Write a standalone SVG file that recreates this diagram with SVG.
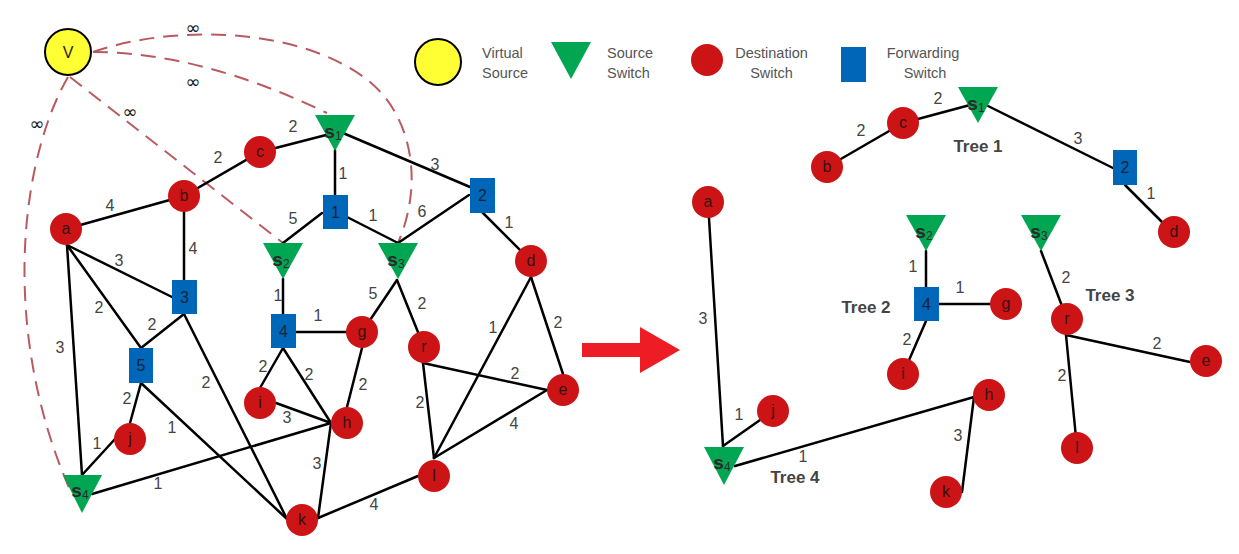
<svg xmlns="http://www.w3.org/2000/svg" width="1239" height="554" viewBox="0 0 1239 554">
<style>
.e{stroke:#000;stroke-width:2.5;fill:none;stroke-linecap:round}
.d{stroke:#B85A60;stroke-width:2;fill:none;stroke-dasharray:15 9}
.red{fill:#CC1417}
.blue{fill:#0067B8}
.grn{fill:#00A651}
.nl{font-family:"Liberation Sans",Arial,sans-serif;font-size:16px;fill:#3a1010;text-anchor:middle}
.bl{font-family:"Liberation Sans",Arial,sans-serif;font-size:16px;fill:#14243a;text-anchor:middle}
.sl{font-family:"Liberation Sans",Arial,sans-serif;fill:#2a2a2a;text-anchor:middle}
.sl .s{font-size:19px;font-weight:bold}
.sl .n{font-size:12px}
.w{font-family:"Liberation Sans",Arial,sans-serif;font-size:16px;fill:#444;text-anchor:middle}
.inf{font-family:"DejaVu Sans",sans-serif;font-size:18px;fill:#111;text-anchor:middle}
.lg{font-family:"Liberation Sans",Arial,sans-serif;font-size:14.5px;fill:#555}
.tt{font-family:"Liberation Sans",Arial,sans-serif;font-size:17px;font-weight:bold;fill:#444;text-anchor:middle}
</style>

<!-- Legend -->
<g id="legend">
  <circle cx="438" cy="62" r="23" fill="#FFFF33" stroke="#000" stroke-width="2"/>
  <text class="lg" x="482" y="58">Virtual</text>
  <text class="lg" x="482" y="78">Source</text>
  <polygon class="grn" points="551,42 591,42 571,79"/>
  <text class="lg" x="607" y="58">Source</text>
  <text class="lg" x="607" y="78">Switch</text>
  <circle class="red" cx="707" cy="60" r="16"/>
  <text class="lg" x="771.5" y="58" text-anchor="middle">Destination</text>
  <text class="lg" x="771.5" y="78" text-anchor="middle">Switch</text>
  <rect class="blue" x="841" y="47" width="25" height="35"/>
  <text class="lg" x="923" y="58" text-anchor="middle">Forwarding</text>
  <text class="lg" x="925" y="78" text-anchor="middle">Switch</text>
</g>

<!-- Connectors -->
<g id="connectors">
  <!-- dashed virtual links -->
  <path class="d" d="M93,52 Q200,52 327,113"/>
  <path class="d" d="M93,52 C170,25 300,25 370,82 C410,115 425,180 398,243"/>
  <path class="d" d="M70,77 L283,243"/>
  <path class="d" d="M68,77 C20,160 0,330 70,490"/>
  <!-- left graph -->
  <line class="e" x1="260" y1="152" x2="330" y2="134"/>
  <line class="e" x1="184" y1="196" x2="260" y2="152"/>
  <line class="e" x1="335" y1="150" x2="335" y2="195"/>
  <line class="e" x1="343" y1="133" x2="470" y2="187"/>
  <line class="e" x1="322" y1="213" x2="283" y2="243"/>
  <line class="e" x1="347" y1="217" x2="398" y2="243"/>
  <line class="e" x1="469" y1="195" x2="398" y2="243"/>
  <line class="e" x1="482" y1="212" x2="531" y2="261"/>
  <line class="e" x1="397" y1="280" x2="362" y2="332"/>
  <line class="e" x1="397" y1="280" x2="424" y2="347"/>
  <line class="e" x1="283" y1="279" x2="283" y2="314"/>
  <line class="e" x1="296" y1="332" x2="362" y2="332"/>
  <line class="e" x1="66" y1="229" x2="184" y2="196"/>
  <line class="e" x1="184" y1="196" x2="184" y2="280"/>
  <line class="e" x1="67" y1="245" x2="172" y2="297"/>
  <line class="e" x1="67" y1="245" x2="141" y2="348"/>
  <line class="e" x1="67" y1="245" x2="82" y2="475"/>
  <line class="e" x1="184" y1="314" x2="141" y2="348"/>
  <line class="e" x1="184" y1="314" x2="287" y2="519"/>
  <line class="e" x1="141" y1="383" x2="287" y2="519"/>
  <line class="e" x1="141" y1="383" x2="130" y2="423"/>
  <line class="e" x1="115" y1="439" x2="82" y2="475"/>
  <line class="e" x1="92" y1="494" x2="331" y2="423"/>
  <line class="e" x1="283" y1="348" x2="260" y2="388"/>
  <line class="e" x1="283" y1="348" x2="331" y2="423"/>
  <line class="e" x1="276" y1="403" x2="331" y2="423"/>
  <line class="e" x1="362" y1="348" x2="347" y2="407"/>
  <line class="e" x1="331" y1="423" x2="318" y2="518"/>
  <line class="e" x1="318" y1="518" x2="418" y2="476"/>
  <line class="e" x1="423" y1="363" x2="434" y2="458"/>
  <line class="e" x1="434" y1="458" x2="531" y2="277"/>
  <line class="e" x1="434" y1="458" x2="547" y2="390"/>
  <line class="e" x1="423" y1="363" x2="547" y2="390"/>
  <line class="e" x1="531" y1="277" x2="563" y2="374"/>
  <!-- right trees -->
  <line class="e" x1="827" y1="167" x2="903" y2="123"/>
  <line class="e" x1="903" y1="123" x2="970" y2="105"/>
  <line class="e" x1="988" y1="106" x2="1113" y2="168"/>
  <line class="e" x1="1125" y1="185" x2="1173" y2="233"/>
  <line class="e" x1="926" y1="251" x2="926" y2="287"/>
  <line class="e" x1="939" y1="304" x2="1006" y2="304"/>
  <line class="e" x1="926" y1="321" x2="903" y2="374"/>
  <line class="e" x1="1041" y1="251" x2="1067" y2="319"/>
  <line class="e" x1="1066" y1="335" x2="1190" y2="362"/>
  <line class="e" x1="1066" y1="335" x2="1077" y2="448"/>
  <line class="e" x1="708" y1="202" x2="723" y2="446"/>
  <line class="e" x1="723" y1="446" x2="773" y2="411"/>
  <line class="e" x1="735" y1="466" x2="974" y2="397"/>
  <line class="e" x1="974" y1="397" x2="962" y2="492"/>
  <!-- weights -->
  <text class="inf" x="193" y="34">∞</text>
  <text class="inf" x="193" y="88">∞</text>
  <text class="inf" x="130" y="118">∞</text>
  <text class="inf" x="37" y="130">∞</text>
  <text class="w" x="293" y="132">2</text>
  <text class="w" x="218" y="163">2</text>
  <text class="w" x="343" y="179">1</text>
  <text class="w" x="435" y="170">3</text>
  <text class="w" x="373" y="221">1</text>
  <text class="w" x="422" y="217">6</text>
  <text class="w" x="110" y="211">4</text>
  <text class="w" x="193" y="254">4</text>
  <text class="w" x="119" y="266">3</text>
  <text class="w" x="99" y="313">2</text>
  <text class="w" x="152" y="330">2</text>
  <text class="w" x="60" y="353">3</text>
  <text class="w" x="293" y="224">5</text>
  <text class="w" x="509" y="228">1</text>
  <text class="w" x="278" y="301">1</text>
  <text class="w" x="373" y="299">5</text>
  <text class="w" x="422" y="309">2</text>
  <text class="w" x="318" y="321">1</text>
  <text class="w" x="493" y="333">1</text>
  <text class="w" x="558" y="328">2</text>
  <text class="w" x="127" y="404">2</text>
  <text class="w" x="206" y="388">2</text>
  <text class="w" x="172" y="433">1</text>
  <text class="w" x="97" y="449">1</text>
  <text class="w" x="158" y="489">1</text>
  <text class="w" x="263" y="372">2</text>
  <text class="w" x="309" y="380">2</text>
  <text class="w" x="287" y="423">3</text>
  <text class="w" x="317" y="469">3</text>
  <text class="w" x="363" y="390">2</text>
  <text class="w" x="420" y="408">2</text>
  <text class="w" x="515" y="379">2</text>
  <text class="w" x="514" y="429">4</text>
  <text class="w" x="374" y="510">4</text>
  <text class="w" x="861" y="136">2</text>
  <text class="w" x="938" y="104">2</text>
  <text class="w" x="1078" y="144">3</text>
  <text class="w" x="1151" y="199">1</text>
  <text class="w" x="913" y="272">1</text>
  <text class="w" x="960" y="293">1</text>
  <text class="w" x="907" y="345">2</text>
  <text class="w" x="1066" y="283">2</text>
  <text class="w" x="1157" y="349">2</text>
  <text class="w" x="1062" y="381">2</text>
  <text class="w" x="703" y="324">3</text>
  <text class="w" x="739" y="420">1</text>
  <text class="w" x="803" y="462">1</text>
  <text class="w" x="958" y="441">3</text>
</g>

<!-- Left graph nodes -->
<g id="V"><circle cx="68" cy="52" r="23" fill="#FFFF33" stroke="#000" stroke-width="2"/><text class="nl" x="68" y="58" style="fill:#222">V</text></g>
<g id="L-a"><circle class="red" cx="66" cy="229" r="16"/><text class="nl" x="66" y="234">a</text></g>
<g id="L-b"><circle class="red" cx="184" cy="196" r="16"/><text class="nl" x="184" y="201">b</text></g>
<g id="L-c"><circle class="red" cx="260" cy="152" r="16"/><text class="nl" x="260" y="157">c</text></g>
<g id="L-d"><circle class="red" cx="531" cy="261" r="16"/><text class="nl" x="531" y="266">d</text></g>
<g id="L-e"><circle class="red" cx="563" cy="390" r="16"/><text class="nl" x="563" y="395">e</text></g>
<g id="L-g"><circle class="red" cx="362" cy="332" r="16"/><text class="nl" x="362" y="337">g</text></g>
<g id="L-h"><circle class="red" cx="347" cy="423" r="16"/><text class="nl" x="347" y="428">h</text></g>
<g id="L-i"><circle class="red" cx="260" cy="403" r="16"/><text class="nl" x="260" y="408">i</text></g>
<g id="L-j"><circle class="red" cx="130" cy="439" r="16"/><text class="nl" x="130" y="444">j</text></g>
<g id="L-k"><circle class="red" cx="302" cy="520" r="16"/><text class="nl" x="302" y="525">k</text></g>
<g id="L-l"><circle class="red" cx="434" cy="476" r="16"/><text class="nl" x="434" y="481">l</text></g>
<g id="L-r"><circle class="red" cx="424" cy="347" r="16"/><text class="nl" x="424" y="352">r</text></g>
<g id="L-1"><rect class="blue" x="323" y="195" width="25" height="34"/><text class="bl" x="335.5" y="218">1</text></g>
<g id="L-2"><rect class="blue" x="470" y="178" width="25" height="35"/><text class="bl" x="482.5" y="201">2</text></g>
<g id="L-3"><rect class="blue" x="172" y="280" width="25" height="34"/><text class="bl" x="184.5" y="303">3</text></g>
<g id="L-4"><rect class="blue" x="271" y="314" width="25" height="34"/><text class="bl" x="283.5" y="337">4</text></g>
<g id="L-5"><rect class="blue" x="129" y="348" width="24" height="35"/><text class="bl" x="141" y="371">5</text></g>
<g id="L-s1"><polygon class="grn" points="315,115 355,115 335,151"/><text class="sl" x="333" y="138"><tspan class="s">s</tspan><tspan class="n" dy="2">1</tspan></text></g>
<g id="L-s2"><polygon class="grn" points="263,243 303,243 283,279"/><text class="sl" x="281" y="266"><tspan class="s">s</tspan><tspan class="n" dy="2">2</tspan></text></g>
<g id="L-s3"><polygon class="grn" points="378,243 418,243 398,279"/><text class="sl" x="396" y="266"><tspan class="s">s</tspan><tspan class="n" dy="2">3</tspan></text></g>
<g id="L-s4"><polygon class="grn" points="63,475 102,475 82,513"/><text class="sl" x="80" y="497"><tspan class="s">s</tspan><tspan class="n" dy="2">4</tspan></text></g>

<!-- Arrow -->
<g id="arrow"><polygon points="582,343 640,343 640,327 680,350 640,373 640,357 582,357" fill="#EE1C24"/></g>

<!-- Right trees nodes -->
<g id="R-a"><circle class="red" cx="708" cy="202" r="16"/><text class="nl" x="708" y="207">a</text></g>
<g id="R-b"><circle class="red" cx="827" cy="167" r="16"/><text class="nl" x="827" y="172">b</text></g>
<g id="R-c"><circle class="red" cx="903" cy="123" r="16"/><text class="nl" x="903" y="128">c</text></g>
<g id="R-d"><circle class="red" cx="1174" cy="232" r="16"/><text class="nl" x="1174" y="237">d</text></g>
<g id="R-e"><circle class="red" cx="1206" cy="361" r="16"/><text class="nl" x="1206" y="366">e</text></g>
<g id="R-g"><circle class="red" cx="1006" cy="304" r="16"/><text class="nl" x="1006" y="309">g</text></g>
<g id="R-h"><circle class="red" cx="989" cy="395" r="16"/><text class="nl" x="989" y="400">h</text></g>
<g id="R-i"><circle class="red" cx="903" cy="374" r="16"/><text class="nl" x="903" y="379">i</text></g>
<g id="R-j"><circle class="red" cx="773" cy="411" r="16"/><text class="nl" x="773" y="416">j</text></g>
<g id="R-k"><circle class="red" cx="946" cy="492" r="16"/><text class="nl" x="946" y="497">k</text></g>
<g id="R-l"><circle class="red" cx="1077" cy="448" r="16"/><text class="nl" x="1077" y="453">l</text></g>
<g id="R-r"><circle class="red" cx="1067" cy="319" r="16"/><text class="nl" x="1067" y="324">r</text></g>
<g id="R-2"><rect class="blue" x="1113" y="150" width="24" height="35"/><text class="bl" x="1125" y="173">2</text></g>
<g id="R-4"><rect class="blue" x="914" y="287" width="25" height="34"/><text class="bl" x="926.5" y="310">4</text></g>
<g id="R-s1"><polygon class="grn" points="958,87 998,87 978,123"/><text class="sl" x="976" y="110"><tspan class="s">s</tspan><tspan class="n" dy="2">1</tspan></text></g>
<g id="R-s2"><polygon class="grn" points="906,215 946,215 926,251"/><text class="sl" x="924" y="238"><tspan class="s">s</tspan><tspan class="n" dy="2">2</tspan></text></g>
<g id="R-s3"><polygon class="grn" points="1021,215 1061,215 1041,251"/><text class="sl" x="1039" y="238"><tspan class="s">s</tspan><tspan class="n" dy="2">3</tspan></text></g>
<g id="R-s4"><polygon class="grn" points="704,447 744,447 724,485"/><text class="sl" x="722" y="469"><tspan class="s">s</tspan><tspan class="n" dy="2">4</tspan></text></g>

<g id="titles">
  <text class="tt" x="978" y="152">Tree 1</text>
  <text class="tt" x="866" y="313">Tree 2</text>
  <text class="tt" x="1110" y="301">Tree 3</text>
  <text class="tt" x="795" y="483">Tree 4</text>
</g>
</svg>
